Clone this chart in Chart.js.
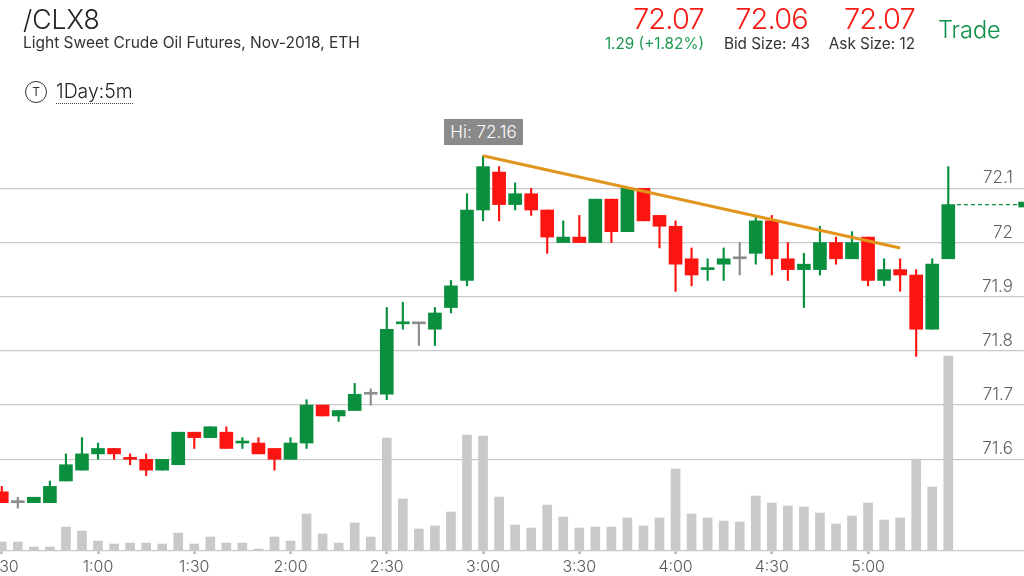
<!DOCTYPE html>
<html>
<head>
<meta charset="utf-8">
<title>/CLX8</title>
<script src="https://cdn.jsdelivr.net/npm/chart.js@4"></script>
<style>
  html, body { margin: 0; padding: 0; background: #fff; }
  body { width: 1024px; height: 576px; overflow: hidden; position: relative; font-family: Inter, "Noto Sans", sans-serif; }
  #grafico { position: absolute; left: 0; top: 0; }
  .txt { position: absolute; white-space: nowrap; line-height: 1; }
  .vermelho { color: #f81a14; font-weight: 300; font-size: 29px; letter-spacing: -0.8px; text-align: right; }
  .pequeno { color: #333; font-size: 15.3px; text-align: right; }
  #circulo { position: absolute; left: 25px; top: 81px; width: 20px; height: 20px; border: 1.5px solid #333; border-radius: 50%;
    font-size: 12px; line-height: 20px; text-align: center; color: #333; }
  #hi { position: absolute; left: 444px; top: 119px; width: 79px; height: 26px; background: #8a8a8a; color: #fff;
    font-size: 17px; font-weight: 300; line-height: 26px; text-align: center; }
</style>
</head>
<body>
<canvas id="grafico" width="1024" height="576"></canvas>

<div class="txt" style="left:23px;top:6px;font-size:26.5px;font-weight:300;color:#222">/CLX8</div>
<div class="txt" style="left:23px;top:35px;font-size:15.5px;color:#333">Light Sweet Crude Oil Futures, Nov-2018, ETH</div>
<div id="circulo">T</div>
<div class="txt" style="left:56px;top:82px;font-size:19.4px;font-weight:300;color:#222;padding-bottom:2px;border-bottom:1.5px dotted #444">1Day:5m</div>
<div id="hi">Hi: 72.16</div>

<div class="txt vermelho" style="right:320px;top:4px">72.07</div>
<div class="txt vermelho" style="right:216px;top:4px">72.06</div>
<div class="txt vermelho" style="right:109px;top:4px">72.07</div>
<div class="txt pequeno" style="right:320px;top:36px;color:#1f9a52">1.29 (+1.82%)</div>
<div class="txt pequeno" style="right:214px;top:36px">Bid Size: 43</div>
<div class="txt pequeno" style="right:109px;top:36px">Ask Size: 12</div>
<div class="txt" style="left:938px;top:18px;font-size:23.5px;font-weight:300;color:#0c8f46">Trade</div>

<script>
// Dados (candles de 5 minutos)
var horarios = ["0:30","0:35","0:40","0:45","0:50","0:55","1:00","1:05","1:10","1:15","1:20","1:25",
  "1:30","1:35","1:40","1:45","1:50","1:55","2:00","2:05","2:10","2:15","2:20","2:25",
  "2:30","2:35","2:40","2:45","2:50","2:55","3:00","3:05","3:10","3:15","3:20","3:25",
  "3:30","3:35","3:40","3:45","3:50","3:55","4:00","4:05","4:10","4:15","4:20","4:25",
  "4:30","4:35","4:40","4:45","4:50","4:55","5:00","5:05","5:10","5:15","5:20","5:25"];
var aberturas = [71.54,71.52,71.52,71.52,71.56,71.58,71.61,71.62,71.60,71.60,71.58,71.59,
  71.65,71.64,71.65,71.63,71.63,71.62,71.60,71.63,71.70,71.68,71.69,71.72,
  71.72,71.85,71.85,71.84,71.88,71.93,72.06,72.13,72.07,72.09,72.06,72.00,
  72.01,72.00,72.08,72.02,72.10,72.05,72.03,71.97,71.95,71.96,71.97,71.98,
  72.04,71.97,71.95,71.95,72.00,71.97,72.01,71.93,71.95,71.94,71.84,71.97];
var fechamentos = [71.52,71.52,71.53,71.55,71.59,71.61,71.62,71.61,71.60,71.58,71.60,71.65,
  71.64,71.66,71.62,71.63,71.61,71.60,71.63,71.70,71.68,71.69,71.72,71.72,
  71.84,71.85,71.85,71.87,71.92,72.06,72.14,72.07,72.09,72.06,72.01,72.01,
  72.00,72.08,72.02,72.10,72.04,72.03,71.96,71.94,71.95,71.97,71.97,72.04,
  71.97,71.95,71.96,72.00,71.97,72.00,71.93,71.95,71.94,71.84,71.96,72.07];
var maximas = [71.55,71.53,71.53,71.56,71.61,71.64,71.63,71.62,71.61,71.61,71.60,71.65,
  71.65,71.66,71.66,71.64,71.64,71.62,71.64,71.71,71.70,71.69,71.74,71.73,
  71.88,71.89,71.85,71.88,71.93,72.09,72.16,72.14,72.11,72.10,72.06,72.04,
  72.05,72.08,72.08,72.10,72.10,72.05,72.04,71.99,71.97,71.99,72.00,72.05,
  72.05,72.00,71.98,72.03,72.01,72.02,72.01,71.97,71.97,71.95,71.97,72.14];
var minimas = [71.52,71.51,71.52,71.52,71.56,71.58,71.60,71.60,71.59,71.57,71.58,71.59,
  71.62,71.64,71.62,71.62,71.61,71.58,71.60,71.62,71.68,71.67,71.69,71.70,
  71.71,71.84,71.81,71.81,71.87,71.92,72.04,72.04,72.06,72.05,71.98,72.00,
  72.00,72.00,72.00,72.02,72.04,71.99,71.91,71.92,71.93,71.93,71.94,71.96,
  71.94,71.93,71.88,71.94,71.96,71.97,71.92,71.92,71.91,71.79,71.84,71.97];
var volumes = [9,9,4,4,24,20,10,7,8,8,7,18,
  7,14,8,8,2,14,10,37,17,8,28,14,
  113,52,22,25,39,116,115,54,26,23,46,34,
  23,24,24,33,25,33,82,37,33,30,29,55,
  48,45,44,38,27,35,48,31,33,92,64,195];

var rotulosX = ["0:30","1:00","1:30","2:00","2:30","3:00","3:30","4:00","4:30","5:00"];
var rotulosY = ["71.6","71.7","71.8","71.9","72","72.1"];

// Linha de tendência e último preço
var tendenciaHoras = ["3:00","5:10"];
var tendenciaPrecos = [72.16,71.99];
var ultimoPreco = 72.07;

var VERDE = "#0a8f3f", VERMELHO = "#fb1410", CINZA = "#8c8c8c";

// Converte "h:mm" para minutos
function paraMinutos(texto) {
  var partes = texto.split(":");
  return parseInt(partes[0]) * 60 + parseInt(partes[1]);
}

function paraHora(minutos) {
  var m = minutos % 60;
  return Math.floor(minutos / 60) + ":" + (m < 10 ? "0" + m : m);
}

// Doji leva a cor da comparação com o fechamento anterior
var cores = horarios.map(function (h, i) {
  if (fechamentos[i] > aberturas[i]) return VERDE;
  if (fechamentos[i] < aberturas[i]) return VERMELHO;
  if (i === 0 || fechamentos[i] === fechamentos[i - 1]) return CINZA;
  return fechamentos[i] > fechamentos[i - 1] ? VERDE : VERMELHO;
});

var corpos = horarios.map(function (h, i) {
  return { x: paraMinutos(h), y: [aberturas[i], fechamentos[i]] };
});
var pavios = horarios.map(function (h, i) {
  return { x: paraMinutos(h), y: [minimas[i], maximas[i]] };
});
var barrasVolume = horarios.map(function (h, i) {
  return { x: paraMinutos(h), y: volumes[i] };
});
var tendencia = tendenciaHoras.map(function (h, i) {
  return { x: paraMinutos(h), y: tendenciaPrecos[i] };
});

new Chart(document.getElementById("grafico").getContext("2d"), {
  data: {
    datasets: [
      { type: "bar", data: barrasVolume, yAxisID: "vol", backgroundColor: "#c9c9c9", barThickness: 9, grouped: false, order: 5 },
      { type: "bar", data: pavios, yAxisID: "y", backgroundColor: cores, barThickness: 1.5, grouped: false, order: 4 },
      { type: "bar", data: corpos, yAxisID: "y", backgroundColor: cores, barThickness: 13, minBarLength: 2, grouped: false, order: 3 },
      { type: "line", data: tendencia, yAxisID: "y", borderColor: "#e0951d", borderWidth: 3, pointRadius: 0, order: 2 },
      { type: "line", yAxisID: "y", borderColor: VERDE, borderWidth: 1.3, borderDash: [4, 3], pointStyle: "rect",
        pointBackgroundColor: VERDE, pointBorderWidth: 0, pointRadius: [0, 4, 0], order: 1,
        data: [{ x: 327.7, y: ultimoPreco }, { x: 347.7, y: ultimoPreco }, { x: 348.6, y: ultimoPreco }] }
    ]
  },
  options: {
    responsive: false,
    animation: false,
    layout: { padding: { top: 130, left: 0, right: 0, bottom: 0 } },
    plugins: { legend: { display: false }, tooltip: { enabled: false } },
    scales: {
      x: {
        type: "linear",
        offset: false,
        min: 29.45,
        max: 348.6,
        afterBuildTicks: function (eixo) {
          eixo.ticks = rotulosX.map(function (r) { return { value: paraMinutos(r) }; });
        },
        afterFit: function (eixo) {
          eixo.height = 25;
          eixo.paddingLeft = 0;
          eixo.paddingRight = 0;
        },
        border: { color: "#c9c9c9", width: 1.3 },
        grid: { offset: false, drawOnChartArea: false, tickLength: 3, tickWidth: 3, tickColor: "#c0c0c0" },
        ticks: {
          autoSkip: false, maxRotation: 0, minRotation: 0, padding: 4,
          color: "#5a5a5a", font: { family: "Inter", size: 16, weight: "300" },
          callback: function (v) { return paraHora(v); }
        }
      },
      y: {
        position: "right",
        min: 71.4308,
        max: 72.2076,
        afterBuildTicks: function (eixo) {
          eixo.ticks = rotulosY.map(function (r) { return { value: parseFloat(r) }; });
        },
        afterFit: function (eixo) {
          eixo.width = 0;
          eixo.paddingTop = 0;
          eixo.paddingBottom = 0;
        },
        border: { display: false },
        grid: { color: "#c9c9c9", lineWidth: 1.3, drawTicks: false },
        ticks: {
          mirror: true, padding: -11,
          color: "#5f5f5f", font: { family: "Inter", size: 17, weight: "300", lineHeight: 1.18 },
          // A segunda linha vazia sobe o rótulo para cima da linha de grade
          callback: function (v) { return [rotulosY[rotulosY.indexOf(String(v))], ""]; }
        }
      },
      vol: { display: false, min: 0, max: 421 }
    }
  }
});
</script>
</body>
</html>
